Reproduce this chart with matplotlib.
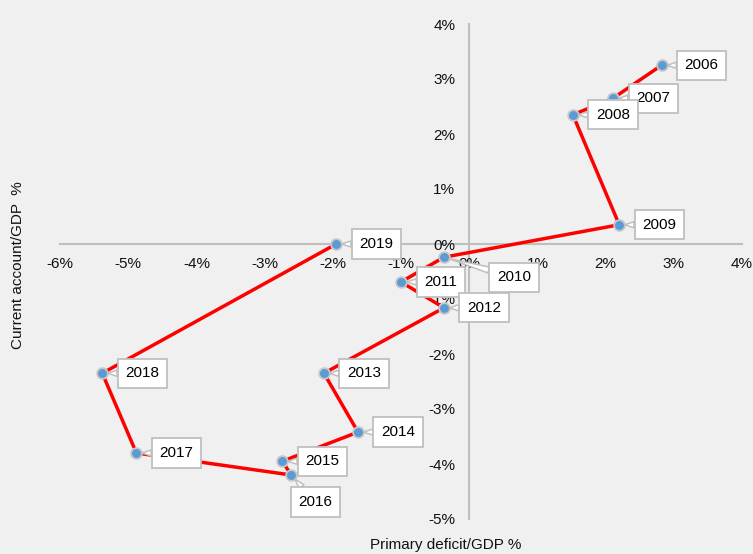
import matplotlib.pyplot as plt
from matplotlib.ticker import FuncFormatter

plt.rcParams['font.family'] = ['Liberation Sans', 'DejaVu Sans']

# data (percent of GDP)
years = ['2006', '2007', '2008', '2009', '2010', '2011', '2012',
         '2013', '2014', '2015', '2016', '2017', '2018', '2019']
primary_deficit = [2.82, 2.11, 1.52, 2.20, -0.37, -1.00, -0.37,
                   -2.13, -1.63, -2.74, -2.61, -4.88, -5.38, -1.95]
current_account = [3.25, 2.65, 2.35, 0.35, -0.24, -0.69, -1.16,
                   -2.35, -3.42, -3.95, -4.20, -3.80, -2.35, 0.00]

# label box offsets from the marker, pixels
offsets = {'2010': (70, -20), '2016': (24, -27)}

bg = '#f0f0f0'
grey = '#bfbfbf'

fig = plt.figure(figsize=(7.53, 5.54), dpi=100, facecolor=bg)
ax = fig.add_axes([60/753, 35/554, 682/753, 495/554], facecolor=bg)

ax.plot(primary_deficit, current_account, color='#ff0000', lw=2.5, zorder=3)
ax.scatter(primary_deficit, current_account, s=60, color='#5b9bd5',
           edgecolors='#c8c8c8', linewidths=1.3, zorder=4)

for yr, x, y in zip(years, primary_deficit, current_account):
    dx, dy = offsets.get(yr, (40, 0))
    ax.annotate(yr, (x, y), xytext=(dx, dy), textcoords='offset pixels',
                ha='center', va='center', fontsize=11, zorder=5,
                bbox=dict(boxstyle='square,pad=0.5', fc='white', ec=grey, lw=1.3),
                arrowprops=dict(arrowstyle='wedge,tail_width=0.4,shrink_factor=0.5',
                                fc='white', ec=grey, lw=1.1, shrinkA=0, shrinkB=4))

ax.set_xlim(-6, 4)
ax.set_ylim(-5, 4)
ax.set_xticks(range(-6, 5))
ax.set_yticks(range(-5, 5))
pct = FuncFormatter(lambda v, p: f'{v:.0f}%')
ax.xaxis.set_major_formatter(pct)
ax.yaxis.set_major_formatter(pct)

for s in ['top', 'right']:
    ax.spines[s].set_visible(False)
ax.spines['bottom'].set_position(('data', 0))
ax.spines['left'].set_position(('data', 0))
for s in ['bottom', 'left']:
    ax.spines[s].set_color(grey)
    ax.spines[s].set_linewidth(1.5)
    ax.spines[s].set_zorder(1)
ax.tick_params(axis='x', length=0, pad=9, labelsize=11, labelcolor='#111111')
ax.tick_params(axis='y', length=0, pad=10, labelsize=11, labelcolor='#111111')

fig.text(446/753, 1 - 545/554, 'Primary deficit/GDP %', ha='center', va='center',
         fontsize=11, color='#111111')
fig.text(18/753, 1 - 265/554, 'Current account/GDP  %', ha='center', va='center',
         rotation=90, fontsize=11, color='#111111')

fig.savefig('out.png', dpi=100, facecolor=bg)
